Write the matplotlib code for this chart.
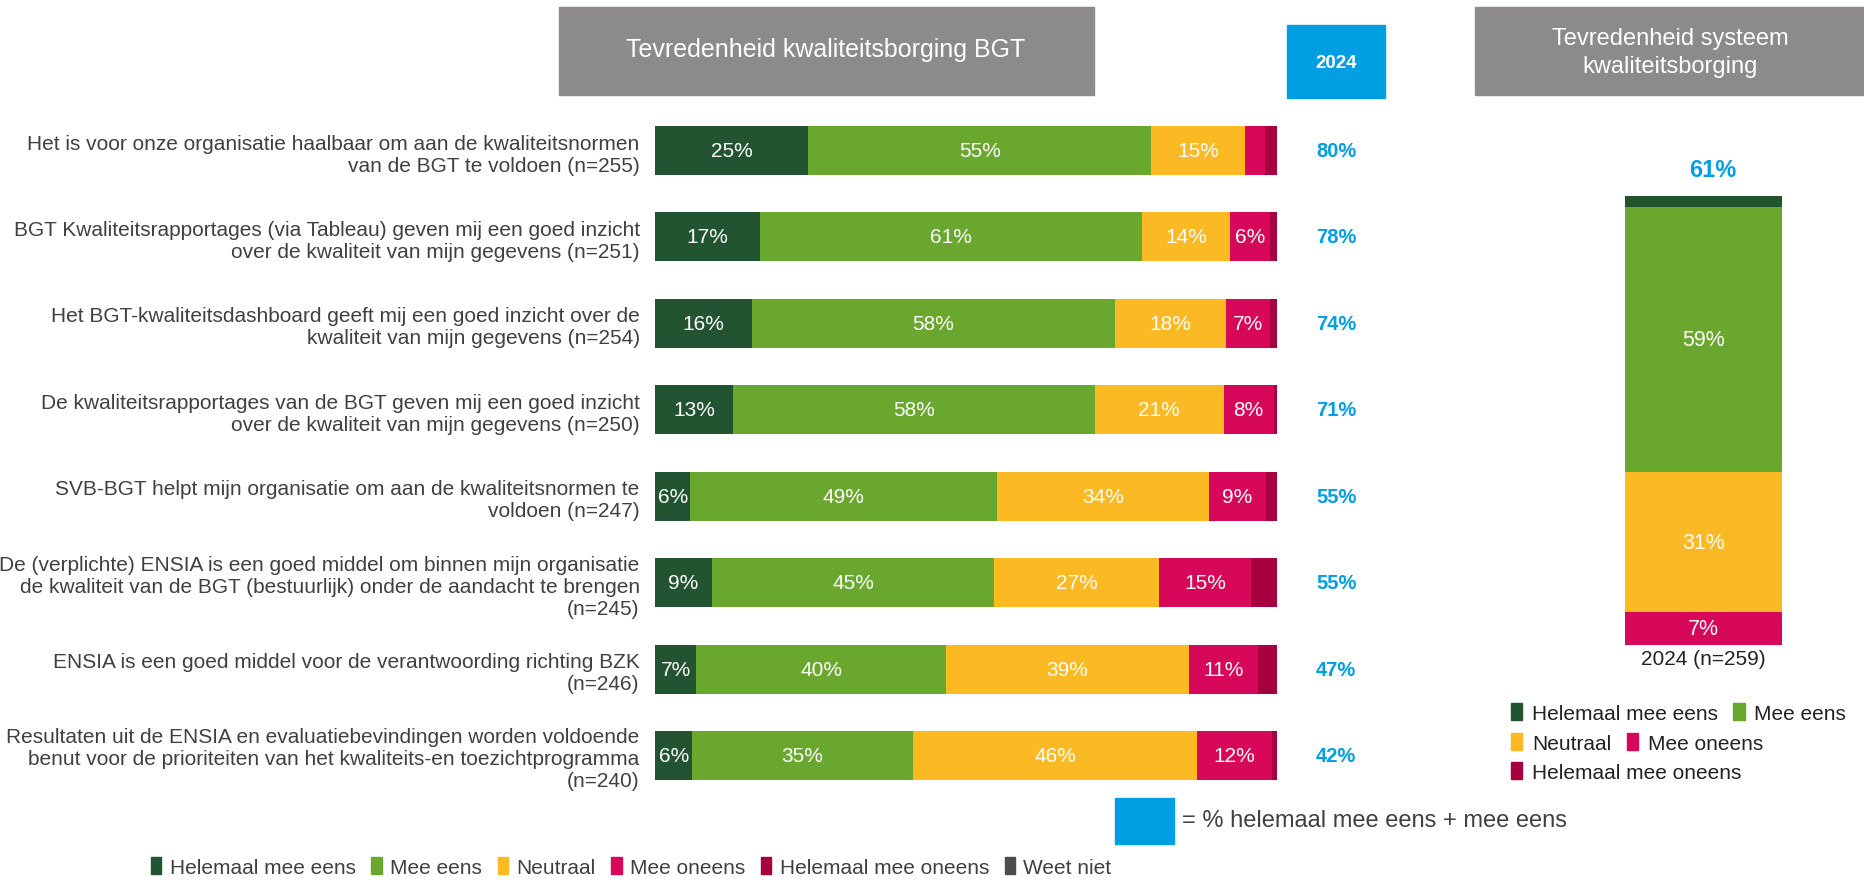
import matplotlib
matplotlib.use("Agg")
import matplotlib.pyplot as plt
from matplotlib.patches import Rectangle, Patch
import numpy as np

plt.rcParams['font.family'] = ['Liberation Sans', 'DejaVu Sans']

# ---------------- data ----------------
vragen = [
    "Het is voor onze organisatie haalbaar om aan de kwaliteitsnormen\nvan de BGT te voldoen (n=255)",
    "BGT Kwaliteitsrapportages (via Tableau) geven mij een goed inzicht\nover de kwaliteit van mijn gegevens (n=251)",
    "Het BGT-kwaliteitsdashboard geeft mij een goed inzicht over de\nkwaliteit van mijn gegevens (n=254)",
    "De kwaliteitsrapportages van de BGT geven mij een goed inzicht\nover de kwaliteit van mijn gegevens (n=250)",
    "SVB-BGT helpt mijn organisatie om aan de kwaliteitsnormen te\nvoldoen (n=247)",
    "De (verplichte) ENSIA is een goed middel om binnen mijn organisatie\nde kwaliteit van de BGT (bestuurlijk) onder de aandacht te brengen\n(n=245)",
    "ENSIA is een goed middel voor de verantwoording richting BZK\n(n=246)",
    "Resultaten uit de ENSIA en evaluatiebevindingen worden voldoende\nbenut voor de prioriteiten van het kwaliteits-en toezichtprogramma\n(n=240)",
]
helemaal_eens = [24.6, 16.9, 15.6, 12.6, 5.7, 9.2, 6.6, 6.0]
mee_eens = [55.2, 61.4, 58.3, 58.1, 49.3, 45.3, 40.2, 35.4]
neutraal = [15.1, 14.1, 17.9, 20.7, 34.0, 26.6, 39.0, 45.8]
mee_oneens = [3.1, 6.4, 7.0, 8.1, 9.2, 14.7, 11.1, 12.0]
helemaal_oneens = [2.0, 1.2, 1.2, 0.5, 1.8, 4.2, 3.1, 0.8]
weet_niet = [0, 0, 0, 0, 0, 0, 0, 0]
totaal = [80, 78, 74, 71, 55, 55, 47, 42]

# systeem kwaliteitsborging 2024
systeem = [2.4, 59.1, 31.2, 7.3, 0.0]
systeem_totaal = 61
systeem_label = "2024 (n=259)"

categorieen = ["Helemaal mee eens", "Mee eens", "Neutraal", "Mee oneens",
               "Helemaal mee oneens", "Weet niet"]
kleuren = ["#235431", "#6AA72F", "#FBBA23", "#D7085A", "#A6003F", "#4D4D4D"]
blauw = "#009FE3"
grijs = "#8C8B89"
tekst = "#404040"

W, H = 1864, 887
fig = plt.figure(figsize=(W / 100, H / 100), dpi=100)


def fx(px):
    return px / W


def fy(py):
    return 1 - py / H


def box(x0, y0, x1, y1, color):
    fig.patches.append(Rectangle((fx(x0), fy(y1)), fx(x1 - x0), (y1 - y0) / H,
                                 transform=fig.transFigure, color=color, zorder=0))


# ---------------- main chart ----------------
ax = fig.add_axes([fx(655), fy(799.7), fx(622), 691.4 / H])
series = [helemaal_eens, mee_eens, neutraal, mee_oneens, helemaal_oneens, weet_niet]
y = np.arange(len(vragen))
left = np.zeros(len(vragen))
for vals, kleur in zip(series, kleuren):
    vals = np.array(vals, dtype=float)
    ax.barh(y, vals, left=left, height=0.567, color=kleur, edgecolor="none")
    for i, v in enumerate(vals):
        if v >= 5:
            ax.text(left[i] + v / 2, y[i], f"{v:.0f}%", ha="center", va="center",
                    color="white", fontsize=15)
    left += vals

for i, t in enumerate(totaal):
    ax.text(109.5, y[i], f"{t}%", ha="center", va="center", color=blauw,
            fontsize=14.5, fontweight="bold", clip_on=False)

ax.set_xlim(0, 100)
ax.set_ylim(len(vragen) - 0.5, -0.5)
ax.set_yticks(y)
ax.set_yticklabels(vragen, fontsize=15, color=tekst, ha="right", multialignment="right")
ax.tick_params(axis="y", length=0, pad=11)
ax.set_xticks([])
for s in ax.spines.values():
    s.set_visible(False)

# titles
box(559, 8, 1094, 96, grijs)
fig.text(fx(826), fy(50), "Tevredenheid kwaliteitsborging BGT", ha="center", va="center",
         color="white", fontsize=18)
box(1287, 26, 1385, 99, blauw)
fig.text(fx(1336), fy(63), "2024", ha="center", va="center", color="white",
         fontsize=13.5, fontweight="bold")
box(1475, 8, 1864, 96, grijs)
fig.text(fx(1670), fy(53), "Tevredenheid systeem\nkwaliteitsborging", ha="center", va="center",
         color="white", fontsize=17, linespacing=1.35)

# ---------------- right chart ----------------
ax2 = fig.add_axes([fx(1625), fy(646), fx(157), 449 / H])
bottom = 0.0
for v, kleur in zip(systeem, kleuren):
    ax2.bar(0, v, bottom=bottom, width=1, color=kleur, edgecolor="none")
    if v >= 5:
        ax2.text(0, bottom + v / 2, f"{v:.0f}%", ha="center", va="center",
                 color="white", fontsize=15.5)
    bottom += v
ax2.set_xlim(-0.5, 0.5)
ax2.set_ylim(100, 0)
ax2.axis("off")
ax2.text(0.06, -6, f"{systeem_totaal}%", ha="center", va="center", color=blauw,
         fontsize=17, fontweight="bold", clip_on=False)
ax2.text(0, 103, systeem_label, ha="center", va="center", color="#222222",
         fontsize=15, clip_on=False)

# right legend, three rows
rijen = [[0, 1], [2, 3], [4]]
rij_y = [714, 744, 773]
for rij, ry in zip(rijen, rij_y):
    handles = [Patch(color=kleuren[k]) for k in rij]
    fig.legend(handles, [categorieen[k] for k in rij], loc="center left",
               bbox_to_anchor=(fx(1511), fy(ry)), ncol=len(rij), frameon=False,
               fontsize=15, handlelength=0.55, handleheight=0.85, handletextpad=0.45,
               columnspacing=0.75, borderpad=0, borderaxespad=0, labelcolor="#222222")

# blue explanation
box(1115, 799, 1174, 845, blauw)
fig.text(fx(1182), fy(821), "= % helemaal mee eens + mee eens", ha="left", va="center",
         color=tekst, fontsize=17)

# bottom legend
handles = [Patch(color=k) for k in kleuren]
fig.legend(handles, categorieen, loc="center left", bbox_to_anchor=(fx(151), fy(868)),
           ncol=6, frameon=False, fontsize=15, handlelength=0.5, handleheight=0.9,
           handletextpad=0.4, columnspacing=0.75, borderpad=0, borderaxespad=0,
           labelcolor=tekst)

fig.savefig("out.png", dpi=100)
